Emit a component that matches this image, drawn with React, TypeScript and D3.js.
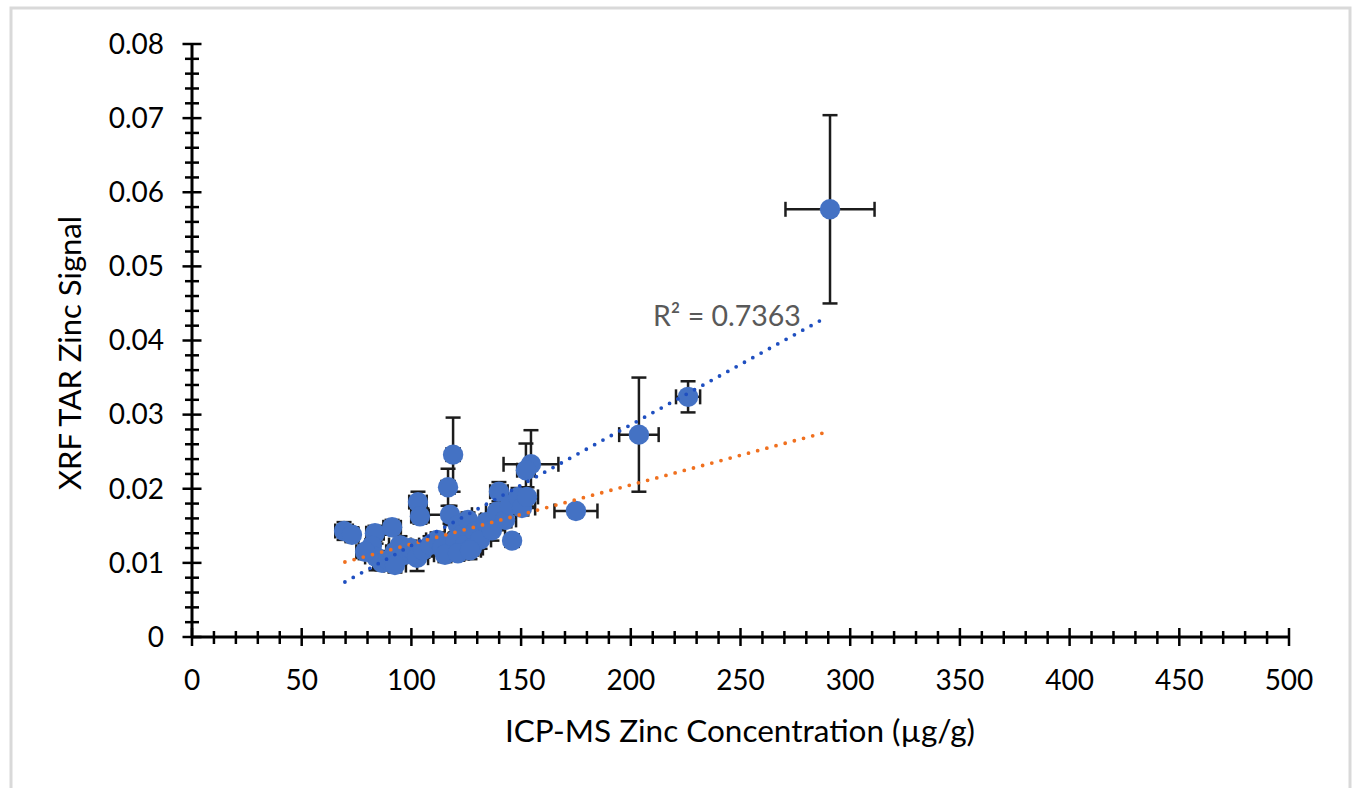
import React from "react";
import * as d3 from "d3";

// ICP-MS zinc concentration (µg/g)
const zinc = [69.3, 72.9, 83.4, 82.0, 83.9, 86.6, 89.3, 91.2, 92.5, 94.8, 97.1, 99.4, 103.0, 103.9, 102.6, 105.3, 108.5, 111.7, 114.0, 116.7, 119.0, 117.6, 121.2, 123.0, 120.0, 125.8, 124.4, 129.0, 127.6, 131.3, 134.0, 136.7, 139.0, 139.9, 142.7, 144.9, 145.9, 148.6, 150.4, 152.7, 154.5, 152.2, 175.0, 203.7, 226.1, 290.8, 115.3, 121.2, 126.7, 92.5, 78.9];
// XRF TAR zinc signal
const signal = [0.0143, 0.0138, 0.0140, 0.0123, 0.0108, 0.0100, 0.0104, 0.0148, 0.0115, 0.0124, 0.0111, 0.0120, 0.0182, 0.0163, 0.0107, 0.0117, 0.0124, 0.0131, 0.0120, 0.0202, 0.0246, 0.0165, 0.0151, 0.0138, 0.0131, 0.0158, 0.0124, 0.0142, 0.0120, 0.0131, 0.0155, 0.0144, 0.0169, 0.0196, 0.0158, 0.0178, 0.0130, 0.0189, 0.0174, 0.0189, 0.0233, 0.0225, 0.0170, 0.0273, 0.0324, 0.0577, 0.0111, 0.0113, 0.0117, 0.0097, 0.0115];
const zincErr = [4, 3, 4, 3, 5, 4, 5, 4, 4, 5, 4, 5, 4, 4, 5, 4, 5, 5, 4, 3, 3, 10, 6, 5, 5, 6, 5, 6, 5, 5, 5, 6, 5, 4, 5, 6, 3, 5, 6, 5, 12.5, 4, 9.8, 9, 5.5, 20.3, 5, 5, 5, 5, 4];
const signalErr = [0.0012, 0.0010, 0.0010, 0.0009, 0.0018, 0.0010, 0.0012, 0.0010, 0.0010, 0.0012, 0.0009, 0.0010, 0.0014, 0.0010, 0.0018, 0.0010, 0.0012, 0.0010, 0.0010, 0.0025, 0.0050, 0.0012, 0.0010, 0.0010, 0.0010, 0.0010, 0.0012, 0.0010, 0.0010, 0.0012, 0.0010, 0.0014, 0.0010, 0.0013, 0.0010, 0.0012, 0.0008, 0.0012, 0.0010, 0.0013, 0.0046, 0.0036, 0.0007, 0.0077, 0.0021, 0.0127, 0.0010, 0.0010, 0.0012, 0.0010, 0.0010];

// trend lines: [slope, intercept], drawn over x range
const trendRange = [69.7, 287.6];
const blueTrend = [0.0001628, -0.00393];
const orangeTrend = [0.00007985, 0.00455];
const r2Label = "R² = 0.7363";

const xTicks = [0, 50, 100, 150, 200, 250, 300, 350, 400, 450, 500];
const yTicks = [0, 0.01, 0.02, 0.03, 0.04, 0.05, 0.06, 0.07, 0.08];

export default function App() {
  const W = 1354, H = 788;
  const x = d3.scaleLinear().domain([0, 500]).range([192, 1289]);
  const y = d3.scaleLinear().domain([0, 0.08]).range([637, 44]);
  const font = "Lato, 'Open Sans', sans-serif";
  const xMinor = d3.range(0, 501, 10);
  const yMinor = d3.range(0, 41).map((i) => i * 0.002);
  const errColor = "#1c1c1c";
  const cap = 7.5;
  const pts = zinc.map((z, i) => ({ x: z, y: signal[i], ex: zincErr[i], ey: signalErr[i] }));
  const trend = (c: number[]) => trendRange.map((v) => [x(v), y(c[0] * v + c[1])] as [number, number]);
  const line = d3.line();
  return (
    <svg width={W} height={H} style={{ position: "absolute", left: 0, top: 0, background: "#fff" }}>
      <rect x={11} y={8} width={1339} height={800} fill="#fff" stroke="#d9d9d9" strokeWidth={3} />
      {/* axes */}
      <g stroke="#000" strokeWidth={2.5}>
        <line x1={x(0)} x2={x(500)} y1={y(0)} y2={y(0)} strokeWidth={3} />
        <line x1={x(0)} x2={x(0)} y1={y(0)} y2={y(0.08)} strokeWidth={3} />
        {xMinor.map((t) => {
          const major = t % 50 === 0;
          return <line key={"xm" + t} x1={x(t)} x2={x(t)} y1={y(0) - (major ? 9 : 6)} y2={y(0) + (major ? 9 : 7)} />;
        })}
        {yMinor.map((t, i) => {
          const major = i % 5 === 0;
          return <line key={"ym" + i} y1={y(t)} y2={y(t)} x1={x(0) - (major ? 9.5 : 7)} x2={x(0) + (major ? 9.5 : 7)} />;
        })}
      </g>
      <g fontFamily={font} fontSize={28} fill="#000">
        {xTicks.map((t) => (
          <text key={"xt" + t} x={x(t)} y={690} textAnchor="middle">{t}</text>
        ))}
        {yTicks.map((t) => (
          <text key={"yt" + t} x={164} y={y(t)} dy="0.35em" textAnchor="end">{t === 0 ? "0" : t.toFixed(2)}</text>
        ))}
      </g>
      <text x={740} y={742} textAnchor="middle" fontFamily={font} fontSize={31.5} fill="#000">ICP-MS Zinc Concentration (µg/g)</text>
      <text transform={`translate(81,353) rotate(-90)`} textAnchor="middle" fontFamily={font} fontSize={31} fill="#000">XRF TAR Zinc Signal</text>
      {/* error bars */}
      <g stroke={errColor} strokeWidth={2.5}>
        {pts.map((p, i) => {
          const cx = x(p.x), cy = y(p.y);
          const x0 = x(p.x - p.ex), x1 = x(p.x + p.ex);
          const y0 = y(p.y - p.ey), y1 = y(p.y + p.ey);
          return (
            <g key={"e" + i}>
              <line x1={x0} x2={x1} y1={cy} y2={cy} />
              <line x1={x0} x2={x0} y1={cy - cap} y2={cy + cap} />
              <line x1={x1} x2={x1} y1={cy - cap} y2={cy + cap} />
              <line x1={cx} x2={cx} y1={y0} y2={y1} />
              <line x1={cx - cap} x2={cx + cap} y1={y0} y2={y0} />
              <line x1={cx - cap} x2={cx + cap} y1={y1} y2={y1} />
            </g>
          );
        })}
      </g>
      {/* markers */}
      <g fill="#4472C4">
        {pts.map((p, i) => (
          <circle key={"c" + i} cx={x(p.x)} cy={y(p.y)} r={10.2} />
        ))}
      </g>
      {/* trend lines */}
      <path d={line(trend(orangeTrend)) || ""} fill="none" stroke="#F0701F" strokeWidth={3.8} strokeLinecap="round" strokeDasharray="0 9.5" />
      <path d={line(trend(blueTrend)) || ""} fill="none" stroke="#1F4FC0" strokeWidth={3.8} strokeLinecap="round" strokeDasharray="0 9.5" />
      <text x={653} y={326} fontFamily={font} fontSize={28.5} fill="#595959">{r2Label}</text>
    </svg>
  );
}
